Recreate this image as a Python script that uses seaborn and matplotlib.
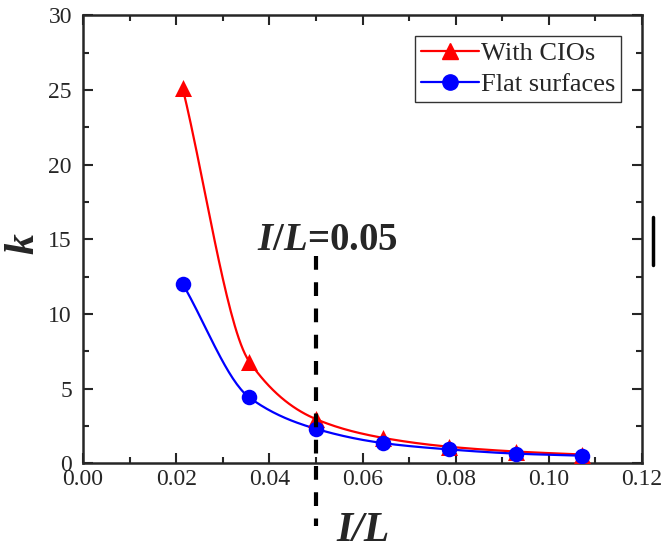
import numpy as np
import pandas as pd
import seaborn as sns
import matplotlib.pyplot as plt
from matplotlib.lines import Line2D
from matplotlib.ticker import MultipleLocator

# data
il_ratio = [0.0214, 0.0357, 0.0500, 0.0643, 0.0786, 0.0929, 0.1071]
k_cios = [25.1, 6.8, 2.95, 1.7, 1.1, 0.78, 0.58]
k_flat = [12.0, 4.4, 2.3, 1.35, 0.92, 0.64, 0.50]


def smooth(x, y, n=200):
    # monotone cubic (Fritsch-Carlson) so the connecting line looks like Origin's spline
    x = np.asarray(x, float)
    y = np.asarray(y, float)
    h = np.diff(x)
    d = np.diff(y) / h
    m = np.zeros_like(y)
    m[0], m[-1] = d[0], d[-1]
    for i in range(1, len(x) - 1):
        if d[i - 1] * d[i] > 0:
            w1 = 2 * h[i] + h[i - 1]
            w2 = h[i] + 2 * h[i - 1]
            m[i] = (w1 + w2) / (w1 / d[i - 1] + w2 / d[i])
    xs = np.linspace(x[0], x[-1], n)
    idx = np.clip(np.searchsorted(x, xs) - 1, 0, len(x) - 2)
    t = (xs - x[idx]) / h[idx]
    h00 = 2 * t**3 - 3 * t**2 + 1
    h10 = t**3 - 2 * t**2 + t
    h01 = -2 * t**3 + 3 * t**2
    h11 = t**3 - t**2
    ys = h00 * y[idx] + h10 * h[idx] * m[idx] + h01 * y[idx + 1] + h11 * h[idx] * m[idx + 1]
    return xs, ys


sns.set_style('ticks')
plt.rcParams['font.family'] = ['Liberation Serif', 'DejaVu Serif']
plt.rcParams['mathtext.fontset'] = 'custom'
plt.rcParams['mathtext.it'] = 'Liberation Serif:italic:bold'
plt.rcParams['mathtext.rm'] = 'Liberation Serif:bold'

fig = plt.figure(figsize=(6.64, 5.43), dpi=100)
ax = fig.add_axes([0.125, 0.147, 0.842, 0.825])

for ys, col, mk, sz in [(k_cios, 'red', '^', 150), (k_flat, 'blue', 'o', 125)]:
    sx, sy = smooth(il_ratio, ys)
    sns.lineplot(x=sx, y=sy, color=col, linewidth=1.6, ax=ax, sort=False)
    sns.scatterplot(x=il_ratio, y=ys, color=col, marker=mk, s=sz, linewidth=0, ax=ax, zorder=3)

# dashed marker line at I/L = 0.05
ax.plot([0.05, 0.05], [13.9, -4.2], color='black', lw=3, linestyle=(0, (3.3, 3)),
        clip_on=False, zorder=4)
ax.text(0.0524, 14.3, r'$I/L$=0.05', fontsize=28, fontweight='bold', ha='center', va='baseline')

ax.set_xlim(0, 0.12)
ax.set_ylim(0, 30)
ax.xaxis.set_major_locator(MultipleLocator(0.02))
ax.xaxis.set_minor_locator(MultipleLocator(0.01))
ax.yaxis.set_major_locator(MultipleLocator(5))
ax.yaxis.set_minor_locator(MultipleLocator(2.5))
ax.xaxis.set_major_formatter(plt.FuncFormatter(lambda v, p: f'{v:.2f}'))
ax.tick_params(which='both', direction='in', top=True, right=True, width=1.5, labelsize=17)
ax.tick_params(axis='x', pad=4)
ax.tick_params(axis='y', pad=8)
ax.tick_params(which='major', length=7)
ax.tick_params(which='minor', length=4)
for sp in ax.spines.values():
    sp.set_linewidth(1.8)

ax.set_xlabel('I/L', fontsize=30, fontweight='bold', fontstyle='italic')
ax.xaxis.set_label_coords(0.5, -0.108)
ax.set_ylabel('k', fontsize=30, fontweight='bold', fontstyle='italic')
ax.yaxis.set_label_coords(-0.072, 0.49)

handles = [
    Line2D([], [], color='red', marker='^', markersize=12, lw=1.6, label='With CIOs'),
    Line2D([], [], color='blue', marker='o', markersize=11, lw=1.6, label='Flat surfaces'),
]
leg = ax.legend(handles=handles, loc='upper right', fontsize=19, frameon=True, fancybox=False,
                edgecolor='black', handlelength=2.2, handletextpad=0.1, borderpad=0.2,
                labelspacing=0.3, borderaxespad=0.8, numpoints=1)
leg.get_frame().set_linewidth(1.0)

# fragment of the neighbouring panel at the right edge
fig.add_artist(Line2D([653 / 664, 653 / 664], [1 - 217 / 543, 1 - 265 / 543],
                      color='black', lw=2.5))

fig.savefig('out.png', dpi=100)
